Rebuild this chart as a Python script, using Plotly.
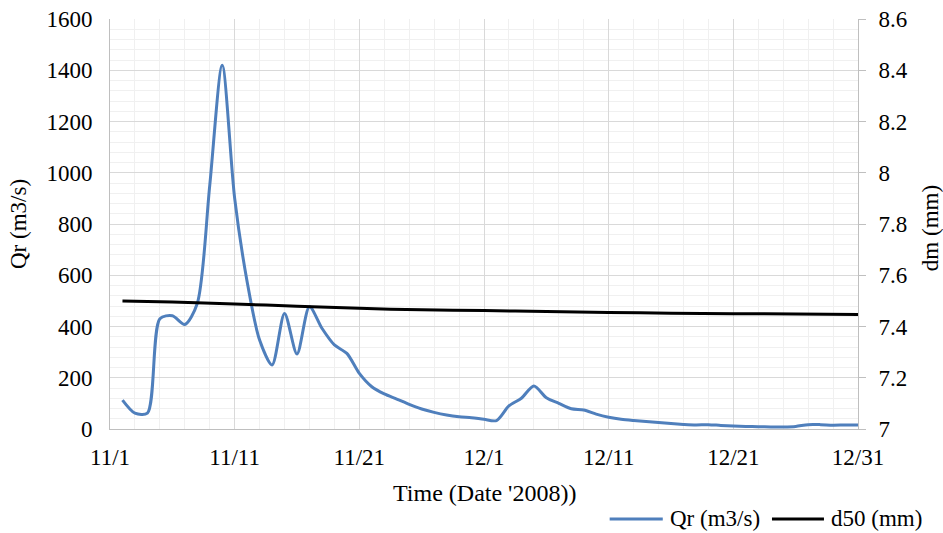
import plotly.graph_objects as go
import pandas as pd

# Qr daily discharge (m3/s), 2008-11-02 .. 2008-12-31
qr_dates = pd.date_range("2008-11-02", "2008-12-31", freq="D")
qr_values = [
    113, 62, 62, 430, 442, 408, 490, 950, 1420, 900,      # 11/2 - 11/11
    575, 347, 250, 451, 293, 477, 393, 328, 295, 217,     # 11/12 - 11/21
    165, 137, 117, 96, 78, 65, 55, 48, 44,                # 11/22 - 11/30
    38, 33, 90, 120, 168, 122, 100, 79, 74, 58,           # 12/1 - 12/10
    46, 38, 33, 29, 25, 21, 18, 16, 17, 14,               # 12/11 - 12/20
    12, 10, 9, 8, 8, 10, 17, 17, 15, 16, 16,              # 12/21 - 12/31
]

# d50 (mm) readings
d50_dates = ["2008-11-02", "2008-11-06", "2008-11-11", "2008-11-16", "2008-11-21",
             "2008-11-26", "2008-12-01", "2008-12-06", "2008-12-11", "2008-12-16",
             "2008-12-21", "2008-12-26", "2008-12-31"]
d50_values = [7.500, 7.496, 7.488, 7.479, 7.471, 7.465, 7.462, 7.459, 7.455,
              7.452, 7.450, 7.449, 7.447]

tick_dates = ["2008-11-01", "2008-11-11", "2008-11-21", "2008-12-01",
              "2008-12-11", "2008-12-21", "2008-12-31"]
tick_labels = ["11/1", "11/11", "11/21", "12/1", "12/11", "12/21", "12/31"]

series_names = ["Qr (m3/s)", "d50 (mm)"]
series_colors = ["#4F7FBC", "#000000"]

FONT = "Liberation Serif"
FS = 23
F = dict(family=FONT, size=FS, color="#000000")
FT = dict(family=FONT, size=24, color="#000000")

fig = go.Figure()
fig.add_trace(go.Scatter(
    x=qr_dates, y=qr_values, name=series_names[0], mode="lines",
    line=dict(color=series_colors[0], width=3, shape="spline", smoothing=0.8),
))
fig.add_trace(go.Scatter(
    x=pd.to_datetime(d50_dates), y=d50_values, name=series_names[1], mode="lines",
    line=dict(color=series_colors[1], width=3, shape="spline", smoothing=0.8),
    yaxis="y2",
))

# manual legend (Excel style, long line samples) at bottom-right
legend_layout = [(0.668, 0.739, 0.746), (0.885, 0.9545, 0.961)]
for (x0, x1, xt), name, color in zip(legend_layout, series_names, series_colors):
    fig.add_shape(type="line", xref="paper", yref="paper", x0=x0, x1=x1,
                  y0=-0.2195, y1=-0.2195, line=dict(color=color, width=3))
    fig.add_annotation(text=name, xref="paper", yref="paper", x=xt, y=-0.2195,
                       xanchor="left", yanchor="middle", showarrow=False, font=F)

# axis titles
fig.add_annotation(text="Time (Date '2008))", xref="paper", yref="paper",
                   x=0.5, y=-0.156, xanchor="center", yanchor="middle",
                   showarrow=False, font=FT)
fig.add_annotation(text="Qr (m3/s)", xref="paper", yref="paper",
                   x=-0.123, y=0.5, xanchor="center", yanchor="middle",
                   textangle=-90, showarrow=False, font=F)
fig.add_annotation(text="dm (mm)", xref="paper", yref="paper",
                   x=1.0963, y=0.49, xanchor="center", yanchor="middle",
                   textangle=-90, showarrow=False, font=F)

fig.update_layout(
    width=943, height=533,
    margin=dict(l=110, r=85, t=19, b=104),
    paper_bgcolor="white", plot_bgcolor="white",
    font=F,
    showlegend=False,
    xaxis=dict(
        type="date", automargin=False,
        range=["2008-11-01", "2008-12-31"],
        tickvals=pd.to_datetime(tick_dates), ticktext=tick_labels,
        showgrid=True, gridcolor="#D9D9D9", gridwidth=1,
        showline=True, linecolor="#BFBFBF", linewidth=1,
        ticks="", ticklabelstandoff=7, tickfont=F,
        minor=dict(dtick=2 * 86400000, tick0="2008-11-01", showgrid=True,
                   gridcolor="#F0F0F0", gridwidth=1),
        zeroline=False,
    ),
    yaxis=dict(
        range=[0, 1600], dtick=200, tick0=0, automargin=False,
        showgrid=True, gridcolor="#D9D9D9", gridwidth=1,
        showline=True, linecolor="#BFBFBF", linewidth=1,
        ticks="", ticklabelstandoff=12, tickfont=F,
        minor=dict(dtick=40, showgrid=True, gridcolor="#F0F0F0", gridwidth=1),
        zeroline=False,
    ),
    yaxis2=dict(
        overlaying="y", side="right", automargin=False,
        range=[7, 8.6], dtick=0.2, tick0=7,
        showgrid=False,
        showline=True, linecolor="#BFBFBF", linewidth=1,
        ticks="outside", ticklen=7, tickcolor="#BFBFBF",
        ticklabelstandoff=8, tickfont=F,
        zeroline=False,
    ),
)

fig.write_html("out.html")
